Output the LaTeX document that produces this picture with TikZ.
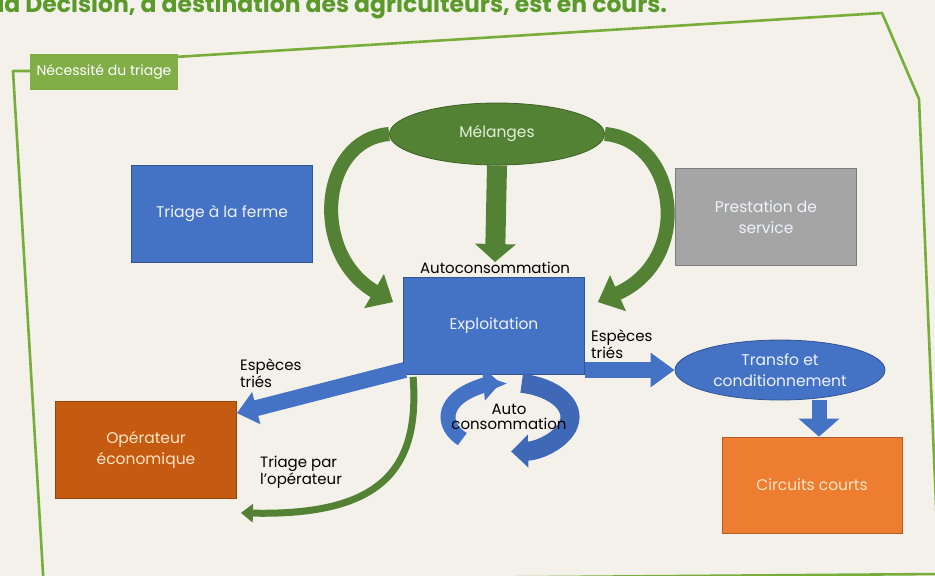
\documentclass[tikz,border=0pt]{standalone}
\usepackage{fontspec}
\setmainfont{Poppins}
\usetikzlibrary{positioning, arrows.meta, shapes.geometric}
\definecolor{paper}{HTML}{F3F1EA}
\definecolor{framegreen}{HTML}{78AD3A}
\definecolor{tabgreen}{HTML}{82AE48}
\definecolor{headgreen}{HTML}{5A9A2A}
\definecolor{leafgreen}{HTML}{548235}
\definecolor{boxblue}{HTML}{4472C4}
\definecolor{ringblue}{HTML}{3F69B6}
\definecolor{boxgray}{HTML}{A5A5A5}
\definecolor{boxorange}{HTML}{ED7D31}
\definecolor{boxrust}{HTML}{C55A11}
\definecolor{palegreen}{HTML}{E2F0D9}
\definecolor{palecream}{HTML}{FCE6C6}
\definecolor{paleblue}{HTML}{EEF2FA}
\newcommand\boxfont{\fontsize{15.5}{21.5}\selectfont}
\newcommand\capfont{\fontsize{15}{15.5}\selectfont}
\tikzset{
  frameline/.style={draw=framegreen, line width=2.6pt, line join=round},
  tab/.style={fill=tabgreen, text=white, font=\fontsize{14}{16}\selectfont,
    minimum width=148pt, minimum height=36pt, inner sep=0pt},
  block/.style={rectangle, fill=#1, draw=#1!75!black, line width=0.8pt,
    minimum width=181pt, minimum height=97pt, align=center, font=\boxfont},
  oval/.style={ellipse, fill=#1, draw=#1!75!black, line width=0.8pt,
    inner sep=0pt, align=center, font=\boxfont},
  caption/.style={text=black, align=left, font=\capfont, inner sep=0pt},
  fatarrow/.style={draw=#1, line width=16pt, -{Triangle[length=24pt, width=33pt]}},
  bendarrow/.style={draw=leafgreen, line width=14pt, -{Triangle[length=22pt, width=38pt]}},
  ringarrow/.style={draw=#1, -{Triangle[length=17pt, width=32pt]}}
}

\begin{document}
\begin{tikzpicture}[x=1pt, y=-1pt]
  \clip (0,0) rectangle (935,576);
  \fill[paper] (0,0) rectangle (935,576);

  \node[anchor=base west, text=headgreen, font=\fontsize{23.5}{25}\selectfont\bfseries]
    (heading) at (-6,12) {la Décision, à destination des agriculteurs, est en cours.};

  % green frame round the whole scheme
  \node[tab] (tab) at (104,72) {Nécessité du triage};
  \draw[frameline] (tab.west |- 0,71) -- (13,71) -- (44,590);
  \draw[frameline] ([yshift=-3pt]tab.north east) -- (882,13) -- (919,99) -- (940,600);
  \draw[frameline] (40,581) -- (940,574);

  \node[oval=leafgreen, text=palegreen, minimum width=215pt, minimum height=62pt]
    (mel) at (497,134) {Mélanges};
  \node[block=boxblue, text=paleblue] (triage) at (222,214) {Triage à la ferme};
  \node[block=boxgray, text=paleblue] (prest) at (766,217) {Prestation de\\service};
  \node[block=boxblue, text=paleblue] (expl) at (494,326) {Exploitation};
  \node[block=boxrust, text=palecream] (oper) at (146,450) {Opérateur\\économique};
  \node[oval=boxblue, text=paleblue, minimum width=210pt, minimum height=60pt]
    (transfo) at (780,370) {Transfo et\\conditionnement};
  \node[block=boxorange, text=palecream, minimum width=180pt, minimum height=96pt]
    (circ) at (812,485) {Circuits courts};

  \node[caption, align=center] (autolbl) at (495,268) {Autoconsommation};
  \node[caption, anchor=west] (triesR) at (591,344) {Espèces\\triés};
  \node[caption, anchor=west] (triesL) at (240,373) {Espèces\\triés};
  \node[caption, anchor=west] (oplbl) at (260,472) {Triage par\\l'opérateur};

  \draw[bendarrow] (mel.west) .. controls +(-70,6) and +(-83,-48)
    .. ([xshift=-10pt, yshift=-25pt]expl.north west);
  \draw[bendarrow] (mel.east) .. controls +(72,6) and +(97,-43)
    .. ([xshift=13pt, yshift=-25pt]expl.north east);
  \draw[fatarrow=leafgreen, line width=20pt, -{Triangle[length=18pt, width=40pt]}]
    (mel.south) -- (autolbl.north);

  \draw[fatarrow=boxblue] (expl.east |- transfo.west) -- (transfo.west);
  \draw[fatarrow=boxblue, line width=15pt, -{Triangle[length=18pt, width=40pt]}]
    ([xshift=7pt]circ.north |- transfo.south) -- ([xshift=7pt]circ.north);
  \draw[fatarrow=boxblue, -{Triangle[length=20pt, width=32pt]}]
    ([xshift=2pt, yshift=5pt]expl.south west) -- ([yshift=-12pt]oper.north east);
  \draw[draw=leafgreen, line width=7pt, -{Triangle[length=12pt, width=18pt]}]
    ([xshift=10pt, yshift=-2pt]expl.south west) .. controls +(7,93) and +(140,3)
    .. ([xshift=4pt, yshift=-14pt]oper.south east);

  % two arcs turning round the on-farm use, text laid on top
  \coordinate (ringc) at (509,417);
  \draw[ringarrow=boxblue, line width=15pt]
    ([shift={(140:61 and 34.5)}]ringc) arc[start angle=140, end angle=262, x radius=61, y radius=34.5];
  \draw[ringarrow=ringblue, line width=19pt]
    ([shift={(282:61 and 34.5)}]ringc) arc[start angle=282, end angle=448, x radius=61, y radius=34.5];
  \node[caption, align=center] (ring) at (ringc) {Auto\\consommation};
\end{tikzpicture}
\end{document}
